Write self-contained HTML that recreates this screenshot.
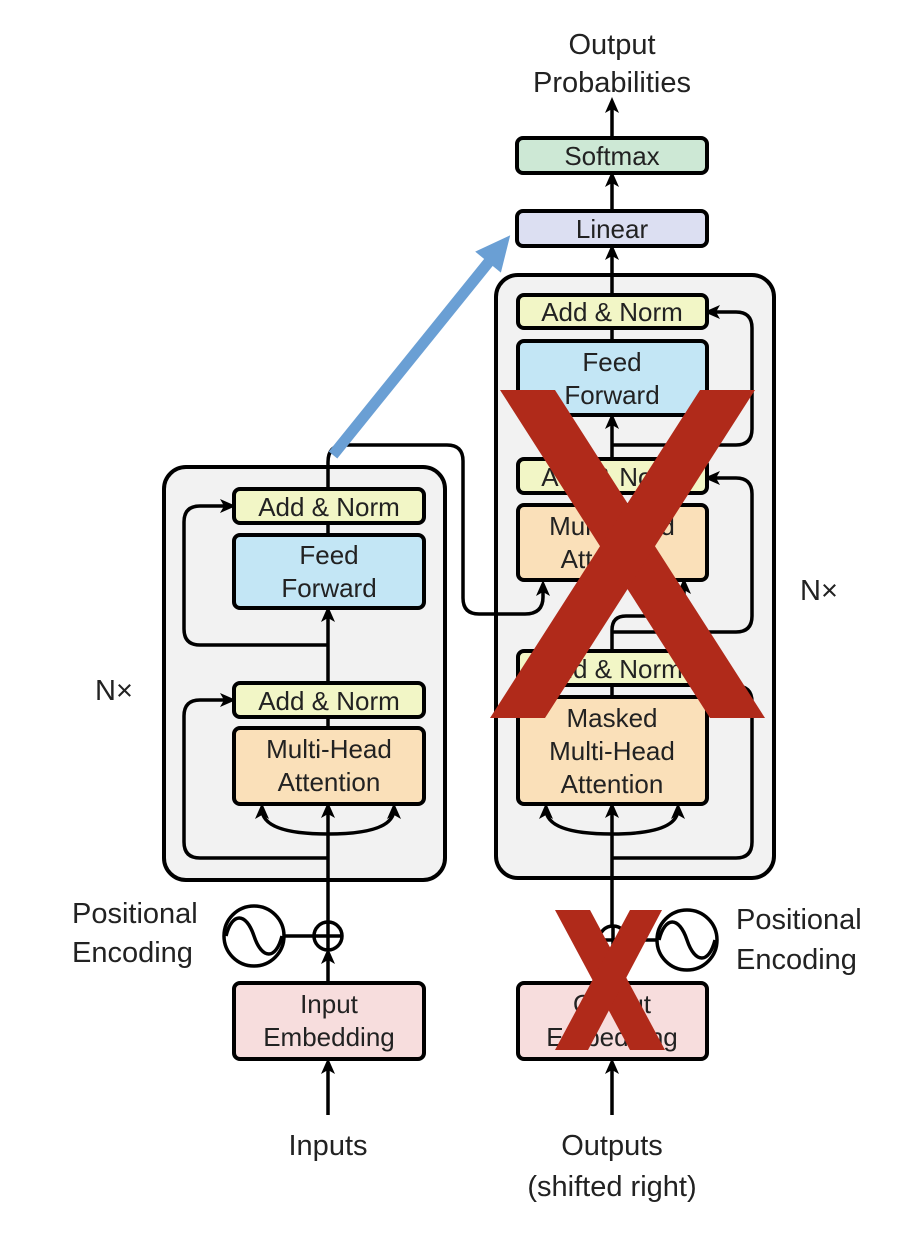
<!DOCTYPE html>
<html><head><meta charset="utf-8"><style>
html,body{margin:0;padding:0;background:#fff;width:916px;height:1244px;overflow:hidden}
text{font-family:"Liberation Sans",sans-serif;fill:#222}
</style></head><body>
<svg width="916" height="1244" viewBox="0 0 916 1244" xmlns="http://www.w3.org/2000/svg">
<defs>
<marker id="b" markerWidth="16" markerHeight="16" refX="10" refY="8" orient="auto" markerUnits="userSpaceOnUse">
<path d="M0,1 L16,8 L0,15 L4,8 z" fill="#000"/></marker>
</defs>
<g stroke="#000" stroke-width="4" fill="none">
<rect x="164" y="467" width="281" height="413" rx="22" fill="#f2f2f2"/>
<rect x="496" y="275" width="278" height="603" rx="22" fill="#f2f2f2"/>
</g>
<g stroke="#000" stroke-width="3.5" fill="none">
<path d="M328 1115 L328 1064" marker-end="url(#b)"/>
<path d="M328 982 L328 954" marker-end="url(#b)"/>
<path d="M328 921 L328 808" marker-end="url(#b)"/>
<path d="M328 834 Q262 834 262 809" marker-end="url(#b)"/>
<path d="M328 834 Q394 834 394 809" marker-end="url(#b)"/>
<path d="M328 858 L200 858 Q184 858 184 842 L184 716 Q184 700 200 700 L230 700" marker-end="url(#b)"/>
<path d="M328 717 L328 728"/>
<path d="M328 683 L328 612" marker-end="url(#b)"/>
<path d="M328 645 L200 645 Q184 645 184 629 L184 522 Q184 506 200 506 L230 506" marker-end="url(#b)"/>
<path d="M328 523 L328 535"/>
<path d="M328 489 L328 462 Q328 445 345 445 L447 445 Q463 445 463 461 L463 598 Q463 614 479 614 L525 614 Q543 614 543 597 L543 586" marker-end="url(#b)"/>
<path d="M612 1115 L612 1064" marker-end="url(#b)"/>
<path d="M612 982 L612 958" marker-end="url(#b)"/>
<path d="M612 926 L612 808" marker-end="url(#b)"/>
<path d="M612 834 Q546 834 546 809" marker-end="url(#b)"/>
<path d="M612 834 Q678 834 678 809" marker-end="url(#b)"/>
<path d="M612 858 L736 858 Q752 858 752 842 L752 702 Q752 686 736 686 L710 686" marker-end="url(#b)"/>
<path d="M612 685 L612 697"/>
<path d="M612 651 L612 630 Q612 616 626 616 L670 616 Q684 616 684 600 L684 584" marker-end="url(#b)"/>
<path d="M612 632 L736 632 Q752 632 752 616 L752 494 Q752 478 736 478 L710 478" marker-end="url(#b)"/>
<path d="M612 493 L612 505"/>
<path d="M612 459 L612 419" marker-end="url(#b)"/>
<path d="M612 445 L736 445 Q752 445 752 429 L752 328 Q752 312 736 312 L710 312" marker-end="url(#b)"/>
<path d="M612 328 L612 341"/>
<path d="M612 295 L612 250" marker-end="url(#b)"/>
<path d="M612 211 L612 177" marker-end="url(#b)"/>
<path d="M612 138 L612 103" marker-end="url(#b)"/>
<circle cx="328" cy="936" r="14" fill="#fff"/>
<path d="M314 936 L342 936 M328 922 L328 950"/>
<circle cx="254" cy="936" r="30" fill="#fff"/>
<path d="M284 936 L314 936"/>
<path d="M226 936 C232 912 246 912 254 936 C262 960 276 960 282 936"/>
<circle cx="613" cy="940" r="14" fill="#fff"/>
<path d="M599 940 L627 940 M613 926 L613 954"/>
<circle cx="687" cy="940" r="30" fill="#fff"/>
<path d="M627 940 L657 940"/>
<path d="M659 940 C665 916 679 916 687 940 C695 964 709 964 715 940"/>
</g>
<g stroke="#000" stroke-width="4">
<rect x="234" y="489" width="190" height="34" rx="6" fill="#f2f6c6"/>
<rect x="234" y="535" width="190" height="73" rx="6" fill="#c3e6f5"/>
<rect x="234" y="683" width="190" height="34" rx="6" fill="#f2f6c6"/>
<rect x="234" y="728" width="190" height="76" rx="6" fill="#fae0b9"/>
<rect x="234" y="983" width="190" height="76" rx="6" fill="#f7dddd"/>
<rect x="518" y="295" width="189" height="33" rx="6" fill="#f2f6c6"/>
<rect x="518" y="341" width="189" height="74" rx="6" fill="#c3e6f5"/>
<rect x="518" y="459" width="189" height="34" rx="6" fill="#f2f6c6"/>
<rect x="518" y="505" width="189" height="75" rx="6" fill="#fae0b9"/>
<rect x="518" y="651" width="189" height="34" rx="6" fill="#f2f6c6"/>
<rect x="518" y="697" width="189" height="107" rx="6" fill="#fae0b9"/>
<rect x="518" y="983" width="189" height="76" rx="6" fill="#f7dddd"/>
<rect x="517" y="211" width="190" height="35" rx="6" fill="#dcdff2"/>
<rect x="517" y="138" width="190" height="35" rx="6" fill="#cde8d5"/>
</g>
<g font-size="26" text-anchor="middle">
<text x="329" y="516">Add &amp; Norm</text>
<text x="329" y="564">Feed</text><text x="329" y="597">Forward</text>
<text x="329" y="710">Add &amp; Norm</text>
<text x="329" y="758">Multi-Head</text><text x="329" y="791">Attention</text>
<text x="329" y="1013">Input</text><text x="329" y="1046">Embedding</text>
<text x="612" y="321">Add &amp; Norm</text>
<text x="612" y="371">Feed</text><text x="612" y="404">Forward</text>
<text x="612" y="486">Add &amp; Norm</text>
<text x="612" y="535">Multi-Head</text><text x="612" y="568">Attention</text>
<text x="612" y="678">Add &amp; Norm</text>
<text x="612" y="727">Masked</text><text x="612" y="760">Multi-Head</text><text x="612" y="793">Attention</text>
<text x="612" y="1013">Output</text><text x="612" y="1046">Embedding</text>
<text x="612" y="238">Linear</text>
<text x="612" y="165">Softmax</text>
</g>
<g font-size="29">
<text x="612" y="54" text-anchor="middle">Output</text>
<text x="612" y="92" text-anchor="middle">Probabilities</text>
<text x="328" y="1155" text-anchor="middle">Inputs</text>
<text x="612" y="1155" text-anchor="middle">Outputs</text>
<text x="612" y="1196" text-anchor="middle">(shifted right)</text>
<text x="72" y="923">Positional</text>
<text x="72" y="962">Encoding</text>
<text x="736" y="929">Positional</text>
<text x="736" y="969">Encoding</text>
<text x="95" y="700">N×</text>
<text x="800" y="600">N×</text>
</g>
<path d="M333 455 L492 258" stroke="#6a9fd4" stroke-width="11" fill="none"/>
<path d="M508 238 L478 252 L500 270 z" fill="#6a9fd4" stroke="#6a9fd4" stroke-width="3"/>
<g fill="#b02a1a">
<path d="M500 390 L555 390 L765 718 L710 718 z"/>
<path d="M700 390 L755 390 L545 718 L490 718 z"/>
<path d="M555 910 L590 910 L665 1050 L630 1050 z"/>
<path d="M630 910 L662 910 L588 1050 L555 1050 z"/>
</g>
</svg>
</body></html>
